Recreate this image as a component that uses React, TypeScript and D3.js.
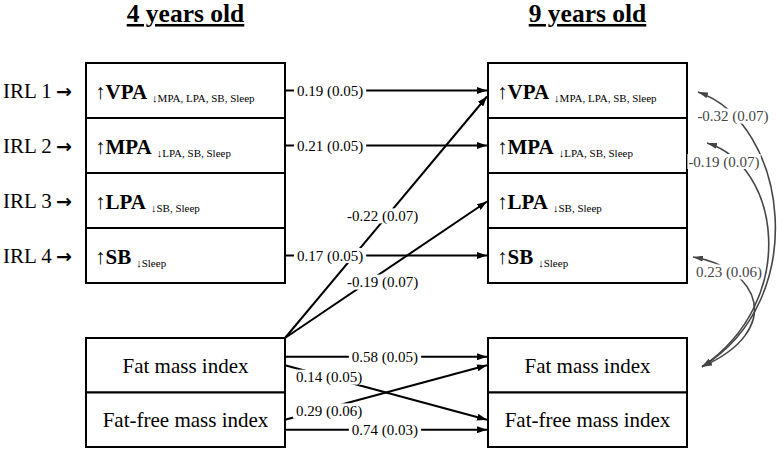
import React from "react";
import * as d3 from "d3";

// ---------- data ----------
const ageTitles = ["4 years old", "9 years old"];
const activityNames = ["VPA", "MPA", "LPA", "SB"];
const activitySubs = ["MPA, LPA, SB, Sleep", "LPA, SB, Sleep", "SB, Sleep", "Sleep"];
const irlLabels = ["IRL 1", "IRL 2", "IRL 3", "IRL 4"];
const bodyNames = ["Fat mass index", "Fat-free mass index"];

const trackingVars = ["VPA", "MPA", "SB"];
const trackingBeta = [0.19, 0.21, 0.17];
const trackingSE = [0.05, 0.05, 0.05];

const fmiTargets = ["VPA", "LPA"];
const fmiBeta = [-0.22, -0.19];
const fmiSE = [0.07, 0.07];

const bodyFrom = ["Fat mass index", "Fat mass index", "Fat-free mass index", "Fat-free mass index"];
const bodyTo = ["Fat mass index", "Fat-free mass index", "Fat mass index", "Fat-free mass index"];
const bodyBeta = [0.58, 0.14, 0.29, 0.74];
const bodySE = [0.05, 0.05, 0.06, 0.03];

const covVars = ["VPA", "MPA", "SB"];
const covBeta = [-0.32, -0.19, 0.23];
const covSE = [0.07, 0.07, 0.06];

// ---------- layout ----------
const W = 777;
const H = 450;
const SERIF = '"Liberation Serif", "Times New Roman", Tinos, serif';
const GRAY = "#454545";
const boxW = 199;
const xAge = d3.scaleOrdinal<string, number>().domain(ageTitles).range([86, 488]);
const yAct = d3.scaleBand<string>().domain(activityNames).range([63, 283]);
const yBody = d3.scaleBand<string>().domain(bodyNames).range([338, 447]);
const rowMid = (s: d3.ScaleBand<string>, k: string) => (s(k) as number) + s.bandwidth() / 2;

const leftR = xAge(ageTitles[0]) + boxW; // right edge of 4y boxes
const rightL = xAge(ageTitles[1]) - 1; // arrow tips at 9y boxes
const rightR = xAge(ageTitles[1]) + boxW;

// per-path layout tweaks (positions only)
const trackLabelT = 0.223;
const fmiEndDy = [6, 1];
const fmiLabelT = [0.483, 0.483];
const fmiLabelDy = [-5.5, 10];
const bodyStartDy = [-8.5, 0, 0, 10];
const bodyEndDy = [-8.5, 0, 0, 10];
const bodyLabelT = [0.495, 0.218, 0.218, 0.495];
const bodyLabelDy = [0, 0, 3, 0];
const covHead = [[11, 1.5], [20, -2.5], [6, 1.5]];
const covTail = [15, 1.5];
const covC1 = [[101, 123], [93, 165], [73, 268]];
const covC2 = [[125, 300], [113, 300], [98, 330]];
const covLabel = [[733, 116], [724, 161.5], [729, 272]];

const serifStyle = { fontFamily: SERIF };

function textWidth(s: string, size: number) {
  const w: Record<string, number> = { ".": 0.25, " ": 0.25, "(": 0.333, ")": 0.333, "-": 0.333 };
  let t = 0;
  for (const c of s) t += w[c] ?? 0.5;
  return t * size;
}
const fmt = (b: number, s: number) => `${b.toFixed(2)} (${s.toFixed(2)})`;

function Label({ cx, cy, text, fill = "#000", pad = 3 }: { cx: number; cy: number; text: string; fill?: string; pad?: number }) {
  const size = 15;
  const w = textWidth(text, size);
  return (
    <g>
      <rect x={cx - w / 2 - pad} y={cy - 7.5} width={w + 2 * pad} height={15} fill="#fff" />
      <text x={cx} y={cy + 5} textAnchor="middle" fontSize={size} fill={fill} style={serifStyle}>
        {text}
      </text>
    </g>
  );
}

function ActivityBox({ x, name, sub }: { x: number; name: string; sub: string }) {
  const y = yAct(name) as number;
  const h = yAct.bandwidth();
  const mid = y + h / 2;
  return (
    <g>
      <rect x={x} y={y} width={boxW} height={h} fill="#fff" stroke="#000" strokeWidth={2} />
      <text x={x + 9} y={mid + 8} fontSize={21} style={serifStyle}>
        <tspan>↑</tspan>
        <tspan fontWeight="bold">{name}</tspan>
        <tspan fontSize={11} dx={5} dy={3}>↓{sub}</tspan>
      </text>
    </g>
  );
}

function BodyBox({ x, name }: { x: number; name: string }) {
  const y = yBody(name) as number;
  const h = yBody.bandwidth();
  return (
    <g>
      <rect x={x} y={y} width={boxW} height={h} fill="#fff" stroke="#000" strokeWidth={2} />
      <text x={x + boxW / 2} y={y + h / 2 + 7.5} fontSize={21} textAnchor="middle" style={serifStyle}>
        {name}
      </text>
    </g>
  );
}

export default function App() {
  const lerp = (a: number, b: number, t: number) => a + (b - a) * t;

  const tracking = trackingVars.map((v, i) => {
    const y = rowMid(yAct, v);
    return { y, label: fmt(trackingBeta[i], trackingSE[i]), lx: lerp(leftR, rightL, trackLabelT) };
  });

  const fmiStart = { x: leftR, y: yBody(bodyNames[0]) as number };
  const fmiPaths = fmiTargets.map((v, i) => {
    const x2 = rightL;
    const y2 = rowMid(yAct, v) + fmiEndDy[i];
    const t = fmiLabelT[i];
    return {
      x1: fmiStart.x, y1: fmiStart.y, x2, y2,
      lx: lerp(fmiStart.x, x2, t), ly: lerp(fmiStart.y, y2, t) + fmiLabelDy[i],
      label: fmt(fmiBeta[i], fmiSE[i]),
    };
  });

  const bodyPaths = bodyFrom.map((f, i) => {
    const y1 = rowMid(yBody, f) + bodyStartDy[i];
    const y2 = rowMid(yBody, bodyTo[i]) + bodyEndDy[i];
    const t = bodyLabelT[i];
    return {
      x1: leftR, y1, x2: rightL, y2,
      lx: lerp(leftR, rightL, t), ly: lerp(y1, y2, t) + bodyLabelDy[i],
      label: fmt(bodyBeta[i], bodySE[i]),
    };
  });

  const tailX = rightR + covTail[0];
  const tailY = rowMid(yBody, bodyNames[0]) + covTail[1];
  const covPaths = covVars.map((v, i) => {
    const hx = rightR + covHead[i][0];
    const hy = rowMid(yAct, v) + covHead[i][1];
    const p = d3.path();
    p.moveTo(hx, hy);
    p.bezierCurveTo(rightR + covC1[i][0], covC1[i][1], rightR + covC2[i][0], covC2[i][1], tailX, tailY);
    return { d: p.toString(), label: fmt(covBeta[i], covSE[i]), lx: covLabel[i][0], ly: covLabel[i][1] };
  });

  return (
    <div style={{ position: "fixed", left: 0, top: 0 }}>
      <svg width={W} height={H} style={{ display: "block", background: "#fff", fontFamily: SERIF }}>
        <defs>
          <marker id="ah" viewBox="0 0 10 7" markerWidth={10} markerHeight={7} refX={10} refY={3.5} orient="auto" markerUnits="userSpaceOnUse">
            <path d="M0,0 L10,3.5 L0,7 Z" fill="#000" />
          </marker>
          <marker id="gh" viewBox="0 0 10 6" markerWidth={10} markerHeight={6} refX={10} refY={3} orient="auto-start-reverse" markerUnits="userSpaceOnUse">
            <path d="M0,0 L10,3 L0,6 Z" fill={GRAY} />
          </marker>
        </defs>

        {ageTitles.map((t) => (
          <text key={t} x={xAge(t) + boxW / 2} y={22} textAnchor="middle" fontSize={25.5} fontWeight="bold" textDecoration="underline" style={serifStyle}>
            {t}
          </text>
        ))}

        {irlLabels.map((l, i) => (
          <text key={l} x={3} y={rowMid(yAct, activityNames[i]) + 7.5} fontSize={21} style={serifStyle}>
            {l}
            <tspan x={56} style={{ fontFamily: "'DejaVu Sans'" }} fontWeight="bold" fontSize={19}>→</tspan>
          </text>
        ))}

        {/* lines */}
        {tracking.map((d, i) => (
          <line key={"tr" + i} x1={leftR} y1={d.y} x2={rightL} y2={d.y} stroke="#000" strokeWidth={2} markerEnd="url(#ah)" />
        ))}
        {fmiPaths.map((d, i) => (
          <line key={"fm" + i} x1={d.x1} y1={d.y1} x2={d.x2} y2={d.y2} stroke="#000" strokeWidth={2} markerEnd="url(#ah)" />
        ))}
        {bodyPaths.map((d, i) => (
          <line key={"bp" + i} x1={d.x1} y1={d.y1} x2={d.x2} y2={d.y2} stroke="#000" strokeWidth={2} markerEnd="url(#ah)" />
        ))}
        {covPaths.map((d, i) => (
          <path key={"cv" + i} d={d.d} fill="none" stroke={GRAY} strokeWidth={1.6} markerStart="url(#gh)" markerEnd="url(#gh)" />
        ))}

        {/* boxes */}
        {ageTitles.map((t) => (
          <g key={"boxes" + t}>
            {activityNames.map((n, i) => (
              <ActivityBox key={n} x={xAge(t)} name={n} sub={activitySubs[i]} />
            ))}
            {bodyNames.map((n) => (
              <BodyBox key={n} x={xAge(t)} name={n} />
            ))}
          </g>
        ))}

        {/* labels */}
        {tracking.map((d, i) => (
          <Label key={"trl" + i} cx={d.lx} cy={d.y} text={d.label} />
        ))}
        {fmiPaths.map((d, i) => (
          <Label key={"fml" + i} cx={d.lx} cy={d.ly} text={d.label} />
        ))}
        {bodyPaths.map((d, i) => (
          <Label key={"bpl" + i} cx={d.lx} cy={d.ly} text={d.label} />
        ))}
        {covPaths.map((d, i) => (
          <Label key={"cvl" + i} cx={d.lx} cy={d.ly} text={d.label} fill={GRAY} pad={1} />
        ))}
      </svg>
    </div>
  );
}
